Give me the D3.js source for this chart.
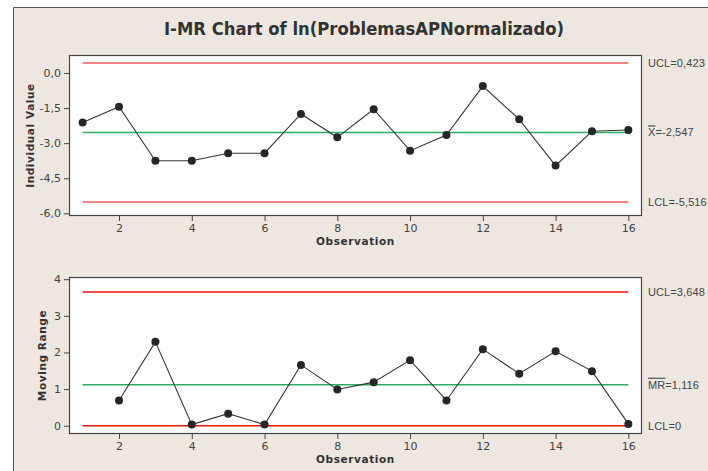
<!DOCTYPE html>
<html><head><meta charset="utf-8">
<script src="https://cdn.jsdelivr.net/npm/d3@7"></script>
<style>
body{margin:0;background:#fff;}
svg{display:block;font-family:"DejaVu Sans",Verdana,sans-serif;}
</style></head>
<body>
<svg id="c" width="708" height="471"></svg>
<script>
const observations = [1,2,3,4,5,6,7,8,9,10,11,12,13,14,15,16];
const individualValues = [-2.12,-1.44,-3.75,-3.75,-3.43,-3.43,-1.75,-2.75,-1.55,-3.32,-2.65,-0.56,-1.98,-3.96,-2.49,-2.44];
const movingRanges = [null,0.69,2.29,0.03,0.33,0.03,1.66,0.99,1.19,1.79,0.69,2.09,1.42,2.03,1.49,0.05];
const iLimits = {ucl:0.423, center:-2.547, lcl:-5.516};
const mrLimits = {ucl:3.648, center:1.116, lcl:0};
const iTicks = [0,-1.5,-3,-4.5,-6];
const mrTicks = [0,1,2,3,4];
const xTicks = [2,4,6,8,10,12,14,16];
const title = "I-MR Chart of ln(ProblemasAPNormalizado)";

const svg = d3.select("#c");
svg.append("rect").attr("x",13).attr("y",7).attr("width",708-13).attr("height",471-7).attr("fill","#ede7df");
svg.append("path").attr("d","M13.5,471V7.5H708").attr("fill","none").attr("stroke","#555").attr("stroke-width",1);

svg.append("text").attr("x",364).attr("y",35).attr("text-anchor","middle")
  .attr("font-size",18.3).attr("font-weight","bold").attr("fill","#333")
  .style("font-stretch","condensed").text(title);

const fmt = d => d3.format(".1f")(d).replace(".",",").replace("−","-");
const fmtLim = d => d.toString().replace(".",",");

function panel(cfg){
  const {top,bottom,left,right,domain,ticks,tickFmt,values,lim,ylabel,ylabelX,centerLabel,redOpacity} = cfg;
  const x = d3.scaleLinear().domain([0.625,16.375]).range([left,right]);
  const y = d3.scaleLinear().domain(domain).range([bottom,top]);
  const g = svg.append("g");
  g.append("rect").attr("x",left).attr("y",top).attr("width",right-left).attr("height",bottom-top).attr("fill","#fff");
  const x0 = x(1), x1 = x(16);
  [["ucl","#f20000",redOpacity],["center","#12a550",0.9],["lcl","#f20000",redOpacity]].forEach(([k,c,o])=>{
    g.append("line").attr("x1",x0).attr("x2",x1).attr("y1",y(lim[k])).attr("y2",y(lim[k]))
      .attr("stroke",c).attr("stroke-width",1.5).attr("stroke-opacity",o);
  });
  const pts = observations.map((o,i)=>({o,v:values[i]})).filter(d=>d.v!==null);
  g.append("path").datum(pts).attr("fill","none").attr("stroke","#333").attr("stroke-width",1.1)
    .attr("d",d3.line().x(d=>x(d.o)).y(d=>y(d.v)));
  g.selectAll("circle.p").data(pts).enter().append("circle").attr("cx",d=>x(d.o)).attr("cy",d=>y(d.v))
    .attr("r",4).attr("fill","#262626");
  g.append("rect").attr("x",left+0.5).attr("y",top+0.5).attr("width",right-left-1).attr("height",bottom-top-1)
    .attr("fill","none").attr("stroke","#444").attr("stroke-width",1.2);
  const ax = g.append("g").attr("transform",`translate(0,${bottom})`)
    .call(d3.axisBottom(x).tickValues(xTicks).tickSize(5).tickPadding(3));
  const ay = g.append("g").attr("transform",`translate(${left},0)`)
    .call(d3.axisLeft(y).tickValues(ticks).tickFormat(tickFmt).tickSize(5).tickPadding(3));
  [ax,ay].forEach(a=>{
    a.attr("font-family",null).attr("font-size",null);
    a.select(".domain").remove();
    a.selectAll("line").attr("stroke","#444");
    a.selectAll("text").attr("fill","#444").style("font-size","11px").style("font-family","DejaVu Sans, sans-serif");
  });
  g.append("text").attr("x",(left+right)/2).attr("y",bottom+29).attr("text-anchor","middle")
    .attr("font-size",10.5).attr("font-weight","bold").attr("fill","#333").attr("letter-spacing",0.6).text("Observation");
  g.append("text").attr("transform",`translate(${ylabelX},${(top+bottom)/2}) rotate(-90)`).attr("text-anchor","middle")
    .attr("font-size",10.5).attr("font-weight","bold").attr("fill","#333").attr("letter-spacing",0.6).text(ylabel);
  const lx = right+6;
  const addLab = (v, build)=>{
    const t = g.append("text").attr("x",lx).attr("y",y(v)).attr("dy","0.35em")
      .style("font-size","11px").style("font-family","'Liberation Sans', Arial, sans-serif")
      .attr("letter-spacing",0.1).attr("fill","#444");
    build(t);
  };
  addLab(lim.ucl, t=>t.text("UCL="+fmtLim(lim.ucl)));
  addLab(lim.center, t=>{
    t.append("tspan").style("text-decoration","overline").text(centerLabel);
    t.append("tspan").text("="+fmtLim(lim.center));
  });
  addLab(lim.lcl, t=>t.text("LCL="+fmtLim(lim.lcl)));
}

panel({top:55,bottom:216,left:69,right:642,domain:[-6.115,0.77],ticks:iTicks,tickFmt:fmt,
  values:individualValues,lim:iLimits,ylabel:"Individual Value",ylabelX:34,centerLabel:"X",redOpacity:0.65});
panel({top:277,bottom:434,left:69,right:642,domain:[-0.226,4.06],ticks:mrTicks,tickFmt:d3.format("d"),
  values:movingRanges,lim:mrLimits,ylabel:"Moving Range",ylabelX:46,centerLabel:"MR",redOpacity:0.95});
</script>
</body></html>
